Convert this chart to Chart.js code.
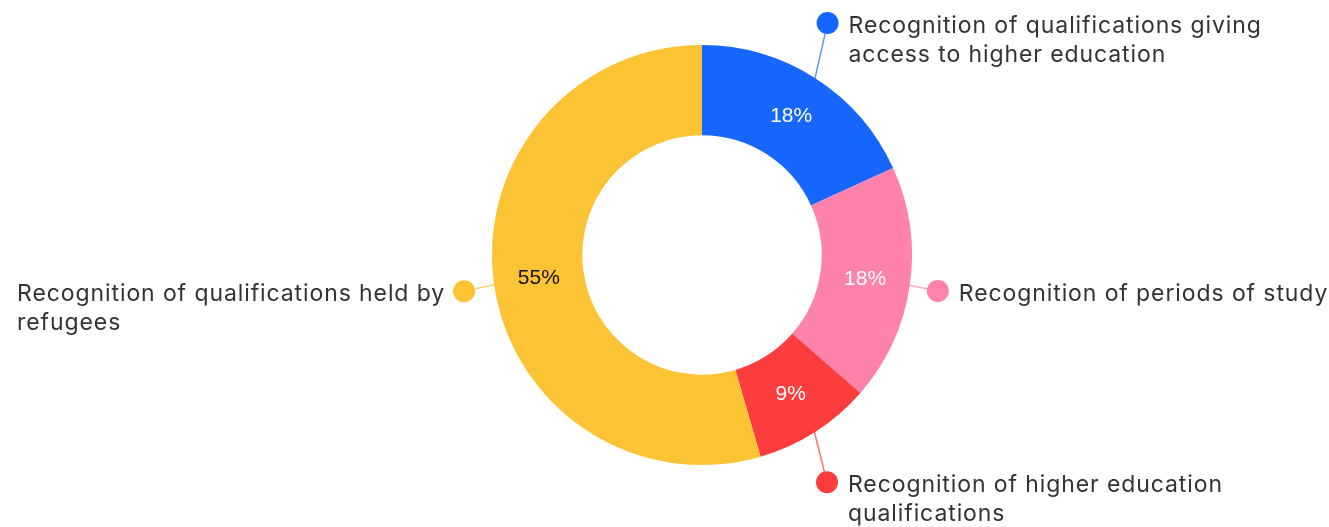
<!DOCTYPE html>
<html>
<head>
<meta charset="utf-8">
<script src="https://cdn.jsdelivr.net/npm/chart.js@4.4.1/dist/chart.umd.min.js"></script>
<style>
  html, body { margin: 0; padding: 0; background: #ffffff; }
  #wrap { position: relative; width: 1329px; height: 527px; }
</style>
</head>
<body>
<div id="wrap"><canvas id="c" width="1329" height="527"></canvas></div>
<script>
// ---- data ----
const categories = [
  "Recognition of qualifications giving access to higher education",
  "Recognition of periods of study",
  "Recognition of higher education qualifications",
  "Recognition of qualifications held by refugees"
];
const labelLines = [
  ["Recognition of qualifications giving", "access to higher education"],
  ["Recognition of periods of study"],
  ["Recognition of higher education", "qualifications"],
  ["Recognition of qualifications held by", "refugees"]
];
const values = [18.2, 18.2, 9.1, 54.5];
const percentLabels = ["18%", "18%", "9%", "55%"];

// ---- styles ----
const colors = ["#1766fd", "#fe82a9", "#fd3d3d", "#fcc334"];
const pctColors = ["#ffffff", "#ffffff", "#ffffff", "#111111"];
// leader geometry: offset of dot from the slice's outer midpoint, and text side
const leaders = [
  { dx: 13, dy: -57, side: "right" },
  { dx: 30, dy: 6, side: "right" },
  { dx: 13, dy: 52, side: "right" },
  { dx: -32, dy: 7, side: "left" }
];
const labelFont = "400 23px Inter, 'Noto Sans', sans-serif";
const labelSpacing = "0.9px";
const pctFont = "400 21px 'Liberation Sans', Arial, sans-serif";

const labelPlugin = {
  id: "sliceLabels",
  afterDatasetsDraw(chart) {
    const ctx = chart.ctx;
    const meta = chart.getDatasetMeta(0);
    meta.data.forEach((arc, i) => {
      const p = arc.getProps(["x", "y", "startAngle", "endAngle", "innerRadius", "outerRadius"], true);
      const mid = (p.startAngle + p.endAngle) / 2;
      const rm = (p.innerRadius + p.outerRadius) / 2;
      // percentage labels
      ctx.save();
      ctx.font = pctFont;
      ctx.fillStyle = pctColors[i];
      ctx.textAlign = "center";
      ctx.textBaseline = "middle";
      ctx.fillText(percentLabels[i], p.x + Math.cos(mid) * rm, p.y + Math.sin(mid) * rm);
      ctx.restore();

      // leader line + dot
      const ox = p.x + Math.cos(mid) * (p.outerRadius - 2);
      const oy = p.y + Math.sin(mid) * (p.outerRadius - 2);
      const L = leaders[i];
      const dxp = ox + L.dx, dyp = oy + L.dy;
      ctx.save();
      ctx.strokeStyle = colors[i];
      ctx.globalAlpha = 0.7;
      ctx.lineWidth = 1.5;
      ctx.beginPath();
      ctx.moveTo(ox, oy);
      ctx.lineTo(dxp, dyp);
      ctx.stroke();
      ctx.globalAlpha = 1;
      ctx.fillStyle = colors[i];
      ctx.beginPath();
      ctx.arc(dxp, dyp, 11, 0, Math.PI * 2);
      ctx.fill();
      ctx.restore();

      // text
      ctx.save();
      ctx.font = labelFont;
      if ("letterSpacing" in ctx) ctx.letterSpacing = labelSpacing;
      ctx.fillStyle = "#333333";
      ctx.textBaseline = "middle";
      ctx.textAlign = "left";
      const lines = labelLines[i];
      const lh = 29;
      let tx;
      if (L.side === "right") {
        tx = dxp + 21;
      } else {
        const w = ctx.measureText(lines[0]).width;
        tx = dxp - 19 - w;
      }
      lines.forEach((ln, k) => ctx.fillText(ln, tx, dyp + 3 + k * lh));
      ctx.restore();
    });
  }
};

new Chart(document.getElementById("c"), {
  type: "doughnut",
  data: {
    labels: categories,
    datasets: [{
      data: values,
      backgroundColor: colors,
      borderWidth: 0,
      hoverOffset: 0
    }]
  },
  options: {
    responsive: false,
    animation: false,
    cutout: "57%",
    layout: { padding: { top: 45, bottom: 62, left: 492, right: 417 } },
    plugins: {
      legend: { display: false },
      tooltip: { enabled: false }
    }
  },
  plugins: [labelPlugin]
});
</script>
</body>
</html>
